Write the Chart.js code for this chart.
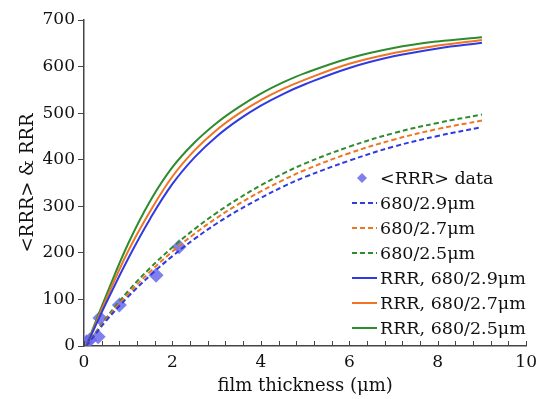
<!DOCTYPE html>
<html>
<head>
<meta charset="utf-8">
<script src="https://cdn.jsdelivr.net/npm/chart.js@4.4.1/dist/chart.umd.min.js"></script>
<style>
  html, body { margin: 0; padding: 0; background: #fff; }
  #wrap { width: 543px; height: 399px; }
</style>
</head>
<body>
<div id="wrap"><canvas id="grafico"></canvas></div>
<script>
// valores
const dadosX = [0.06, 0.13, 0.32, 0.36, 0.8, 1.63, 2.15];
const dadosY = [9, 13, 20, 60, 88, 152, 213];

// eixo x das curvas (um)
const curvaX = [0.05, 0.5, 1, 1.5, 2, 2.5, 3, 3.5, 4, 4.5, 5, 6, 7, 8, 9];

// <RRR> (tracejadas)
const medio29 = [0, 54, 106, 152, 193, 230, 263, 292, 318, 342, 363, 398, 428, 451, 470];
const medio27 = [0, 57, 112, 160, 203, 241, 275, 305, 332, 356, 378, 414, 443, 466, 484];
const medio25 = [0, 60, 118, 168, 212, 251, 286, 317, 345, 370, 392, 428, 457, 479, 497];

// RRR (continuas)
const rrr29 = [0, 92, 188, 274, 348, 405, 450, 486, 516, 541, 562, 597, 622, 639, 651];
const rrr27 = [0, 100, 204, 290, 364, 420, 464, 499, 528, 552, 572, 606, 629, 645, 657];
const rrr25 = [0, 108, 220, 312, 384, 437, 479, 513, 542, 566, 586, 618, 640, 654, 663];

const yTicks = [0, 100, 200, 300, 400, 500, 600, 700];
const xTicks = [0, 2, 4, 6, 8, 10];

const AZUL = '#2f3be0';
const LARANJA = '#f07422';
const VERDE = '#2e8b2e';
const FONTE = 'DejaVu Serif';

function pontos(xs, ys) {
  return xs.map((x, i) => ({ x: x, y: ys[i] }));
}

function linha(label, ys, cor, tracejada) {
  return {
    label: label,
    data: pontos(curvaX, ys),
    showLine: true,
    borderColor: cor,
    backgroundColor: cor,
    borderWidth: 2,
    borderDash: tracejada ? [5, 3] : [],
    pointRadius: 0,
    tension: 0.4,
    order: 1
  };
}

// ticks menores do eixo x, para dentro
const ticksMenores = {
  id: 'ticksMenores',
  afterDraw(chart) {
    const ctx = chart.ctx;
    const sx = chart.scales.x;
    const y0 = sx.top;
    ctx.save();
    ctx.strokeStyle = '#444';
    ctx.lineWidth = 1;
    for (let i = 0; i <= 25; i++) {
      const px = Math.round(sx.getPixelForValue(i * 0.4)) + 0.5;
      ctx.beginPath();
      ctx.moveTo(px, y0);
      ctx.lineTo(px, y0 - 5);
      ctx.stroke();
    }
    ctx.restore();
  }
};

// legenda dentro da area do grafico
const legendaDentro = {
  id: 'legendaDentro',
  afterDraw(chart) {
    const ctx = chart.ctx;
    const x0 = 352, x1 = 377, xt = 380;
    let y = 178;
    ctx.save();
    ctx.font = '17.5px "' + FONTE + '"';
    ctx.textBaseline = 'middle';
    chart.data.datasets.forEach(ds => {
      if (ds.showLine) {
        ctx.strokeStyle = ds.borderColor;
        ctx.lineWidth = 2;
        ctx.setLineDash(ds.borderDash);
        ctx.beginPath();
        ctx.moveTo(x0, y);
        ctx.lineTo(x1, y);
        ctx.stroke();
        ctx.setLineDash([]);
      } else {
        const cx = 362;
        ctx.fillStyle = ds.backgroundColor;
        ctx.beginPath();
        ctx.moveTo(cx, y - 5);
        ctx.lineTo(cx + 5, y);
        ctx.lineTo(cx, y + 5);
        ctx.lineTo(cx - 5, y);
        ctx.closePath();
        ctx.fill();
      }
      ctx.fillStyle = '#111';
      ctx.fillText(ds.label, xt, y + 1);
      y += 25;
    });
    ctx.restore();
  }
};

window.onload = function () {
  const ctx = document.getElementById('grafico').getContext('2d');
  window.grafico = new Chart(ctx, {
    type: 'scatter',
    data: {
      datasets: [
        {
          label: '<RRR> data',
          data: pontos(dadosX, dadosY),
          pointStyle: 'rectRot',
          pointRadius: 7.5,
          backgroundColor: 'rgba(105, 105, 235, 0.85)',
          borderWidth: 0,
          showLine: false,
          order: 2
        },
        linha('680/2.9\u03bcm', medio29, AZUL, true),
        linha('680/2.7\u03bcm', medio27, LARANJA, true),
        linha('680/2.5\u03bcm', medio25, VERDE, true),
        linha('RRR, 680/2.9\u03bcm', rrr29, AZUL, false),
        linha('RRR, 680/2.7\u03bcm', rrr27, LARANJA, false),
        linha('RRR, 680/2.5\u03bcm', rrr25, VERDE, false)
      ]
    },
    options: {
      responsive: true,
      maintainAspectRatio: false,
      animation: false,
      layout: { padding: { top: 20, right: 13, left: 0, bottom: 0 } },
      plugins: {
        legend: { display: false },
        tooltip: { enabled: false }
      },
      scales: {
        x: {
          type: 'linear',
          min: 0,
          max: 10,
          afterFit(scale) { scale.height = 53; },
          afterBuildTicks(scale) { scale.ticks = xTicks.map(v => ({ value: v })); },
          border: { color: '#444', width: 1.5 },
          grid: { display: true, drawOnChartArea: false, drawTicks: false },
          ticks: {
            color: '#111',
            padding: 6,
            maxRotation: 0,
            font: { family: FONTE, size: 17 }
          },
          title: {
            display: true,
            text: 'film thickness (\u03bcm)',
            color: '#111',
            padding: { top: 0, bottom: 2 },
            font: { family: FONTE, size: 18 }
          }
        },
        y: {
          type: 'linear',
          min: 0,
          max: 700,
          afterFit(scale) { scale.width = 84; },
          afterBuildTicks(scale) { scale.ticks = yTicks.map(v => ({ value: v })); },
          border: { color: '#444', width: 1.5 },
          grid: { display: true, drawOnChartArea: false, drawTicks: true, tickLength: 6, color: '#444' },
          ticks: {
            color: '#111',
            padding: 3,
            font: { family: FONTE, size: 17 }
          },
          title: {
            display: true,
            text: '<RRR> & RRR',
            color: '#111',
            padding: { top: 18, bottom: 0 },
            font: { family: FONTE, size: 18 }
          }
        }
      }
    },
    plugins: [ticksMenores, legendaDentro]
  });
};
</script>
</body>
</html>
